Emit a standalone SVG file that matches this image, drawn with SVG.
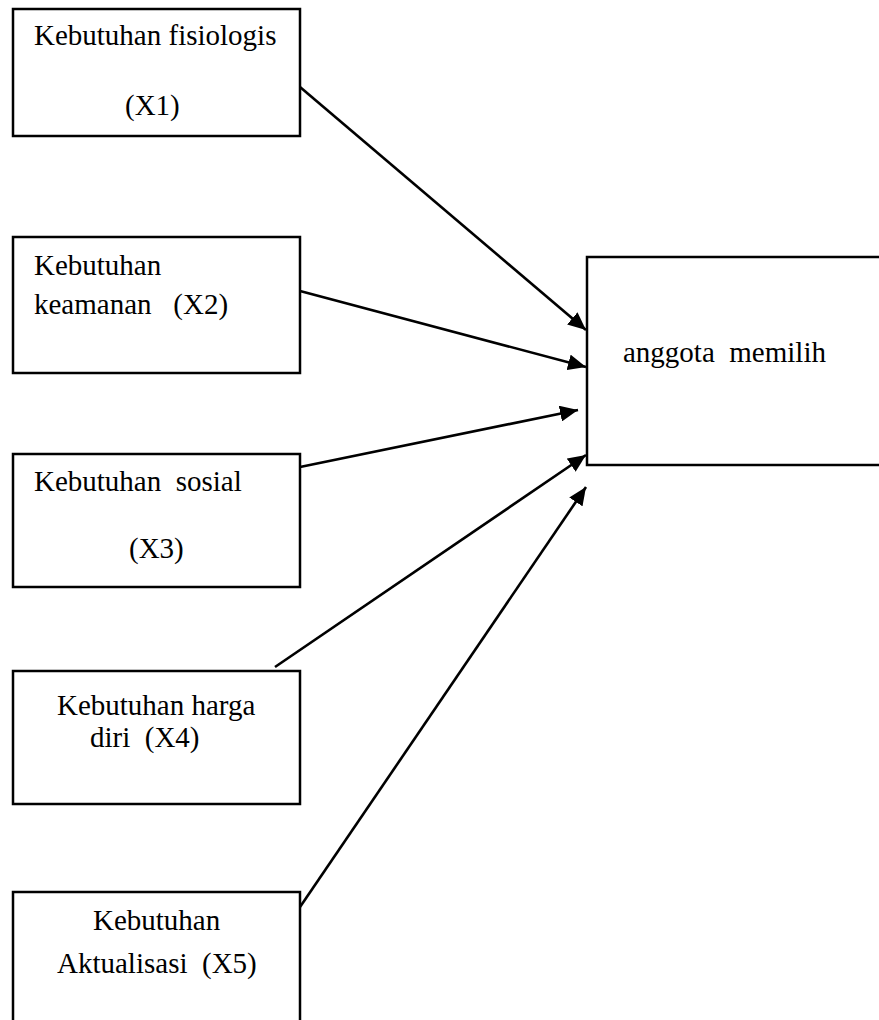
<svg xmlns="http://www.w3.org/2000/svg" width="879" height="1020" viewBox="0 0 879 1020">
<style>
.box{fill:#fff;stroke:#000;stroke-width:2.5}
.t{font-family:"Liberation Serif","Times New Roman",serif;font-size:29px;fill:#000}
.c{stroke:#000;stroke-width:2.6;fill:none}
</style>
<defs>
<marker id="ah" markerUnits="userSpaceOnUse" markerWidth="20" markerHeight="16" refX="18" refY="8" orient="auto">
<path d="M0,0 L18,8 L0,16 z" fill="#000"/>
</marker>
</defs>
<rect width="879" height="1020" fill="#fff"/>
<g id="n1"><rect class="box" x="13" y="9" width="287" height="127"/>
<text class="t" x="34" y="45">Kebutuhan fisiologis</text>
<text class="t" x="125" y="115">(X1)</text></g>
<g id="n2"><rect class="box" x="13" y="237" width="287" height="136"/>
<text class="t" x="34" y="275">Kebutuhan</text>
<text class="t" x="34" y="314" xml:space="preserve">keamanan   (X2)</text></g>
<g id="n3"><rect class="box" x="13" y="454" width="287" height="133"/>
<text class="t" x="34" y="491" xml:space="preserve">Kebutuhan  sosial</text>
<text class="t" x="129" y="558">(X3)</text></g>
<g id="n4"><rect class="box" x="13" y="671" width="287" height="133"/>
<text class="t" x="57" y="715">Kebutuhan harga</text>
<text class="t" x="90" y="747" xml:space="preserve">diri  (X4)</text></g>
<g id="n5"><rect class="box" x="13" y="892" width="287" height="140"/>
<text class="t" x="93" y="930">Kebutuhan</text>
<text class="t" x="57" y="973" xml:space="preserve">Aktualisasi  (X5)</text></g>
<g id="y"><rect class="box" x="587" y="257" width="300" height="208"/>
<text class="t" x="623" y="362" xml:space="preserve">anggota  memilih</text></g>
<g id="connectors">
<line class="c" x1="300" y1="87" x2="586" y2="330" marker-end="url(#ah)"/>
<line class="c" x1="300" y1="291" x2="586" y2="367" marker-end="url(#ah)"/>
<line class="c" x1="300" y1="467" x2="578" y2="410" marker-end="url(#ah)"/>
<line class="c" x1="275" y1="667" x2="586" y2="455" marker-end="url(#ah)"/>
<line class="c" x1="300" y1="907" x2="586" y2="487" marker-end="url(#ah)"/>
</g>
</svg>
